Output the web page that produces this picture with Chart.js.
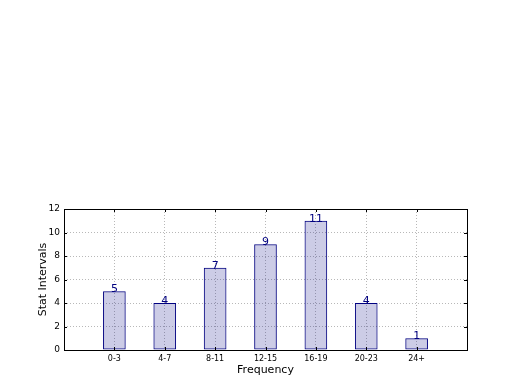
<!DOCTYPE html>
<html>
<head>
<meta charset="utf-8">
<script src="https://cdn.jsdelivr.net/npm/chart.js@4"></script>
<style>
  html, body { margin: 0; padding: 0; background: #fff; }
</style>
</head>
<body>
<canvas id="stat_chart" width="520" height="390"></canvas>
<script>
// bins along the x axis, blank slots at both ends for the padding
const intervals = ['', '0-3', '4-7', '8-11', '12-15', '16-19', '20-23', '24+', ''];
const counts = [null, 5, 4, 7, 9, 11, 4, 1, null];
const yTicks = [0, 2, 4, 6, 8, 10, 12];

const navy = '#000080';
const font = 'DejaVu Sans';

// frame, inward tick marks and the value labels on top of bars
const framePlugin = {
	id: 'frame',
	afterDatasetsDraw(chart) {
		const ctx = chart.ctx;
		const area = chart.chartArea;
		const xs = chart.scales.x;
		const ys = chart.scales.y;
		ctx.save();
		ctx.strokeStyle = '#000';
		ctx.lineWidth = 1;
		ctx.beginPath();
		for (let i = 1; i < intervals.length - 1; i++) {
			const px = Math.round(xs.getPixelForValue(i)) + 0.5;
			ctx.moveTo(px, area.bottom); ctx.lineTo(px, area.bottom - 3);
			ctx.moveTo(px, area.top); ctx.lineTo(px, area.top + 3);
		}
		yTicks.forEach(v => {
			const py = Math.round(ys.getPixelForValue(v)) + 0.5;
			ctx.moveTo(area.left, py); ctx.lineTo(area.left + 3, py);
			ctx.moveTo(area.right, py); ctx.lineTo(area.right - 3, py);
		});
		ctx.stroke();
		ctx.strokeRect(Math.round(area.left) + 0.5, Math.round(area.top) + 0.5,
			Math.round(area.right - area.left), Math.round(area.bottom - area.top));

		ctx.fillStyle = navy;
		ctx.font = '11px "' + font + '"';
		ctx.textAlign = 'center';
		ctx.textBaseline = 'alphabetic';
		chart.getDatasetMeta(0).data.forEach((bar, i) => {
			if (counts[i] == null) return;
			ctx.fillText(String(counts[i]), bar.x, bar.y + 1);
		});
		ctx.restore();
	}
};

new Chart(document.getElementById('stat_chart'), {
	type: 'bar',
	data: {
		labels: intervals,
		datasets: [{
			data: counts,
			backgroundColor: 'rgba(0, 0, 128, 0.2)',
			borderColor: navy,
			borderWidth: 1,
			borderSkipped: false,
			barPercentage: 0.45,
			categoryPercentage: 1,
		}],
	},
	options: {
		responsive: false,
		animation: false,
		devicePixelRatio: 1,
		layout: { padding: { top: 209, right: 53, left: 0, bottom: 0 } },
		plugins: { legend: { display: false }, tooltip: { enabled: false } },
		scales: {
			x: {
				offset: false,
				grid: { color: '#b8b8b8', drawTicks: false, offset: false },
				border: { dash: [1, 2], display: false },
				ticks: {
					color: '#000', padding: 4, maxRotation: 0, autoSkip: false,
					font: { family: font, size: 8 },
				},
				title: {
					display: true, text: 'Frequency', color: '#000',
					font: { family: font, size: 11 }, padding: { top: 0, bottom: 13 },
				},
				afterFit(scale) { scale.height = 40; },
			},
			y: {
				min: 0, max: 12,
				grid: { color: '#b8b8b8', drawTicks: false },
				border: { dash: [1, 2], display: false },
				ticks: {
					stepSize: 2, color: '#000', padding: 4,
					font: { family: font, size: 9 },
				},
				title: {
					display: true, text: 'Stat Intervals', color: '#000',
					font: { family: font, size: 11 }, padding: { top: 37, bottom: 0 },
				},
				afterFit(scale) { scale.width = 64; },
			},
		},
	},
	plugins: [framePlugin],
});
</script>
</body>
</html>
